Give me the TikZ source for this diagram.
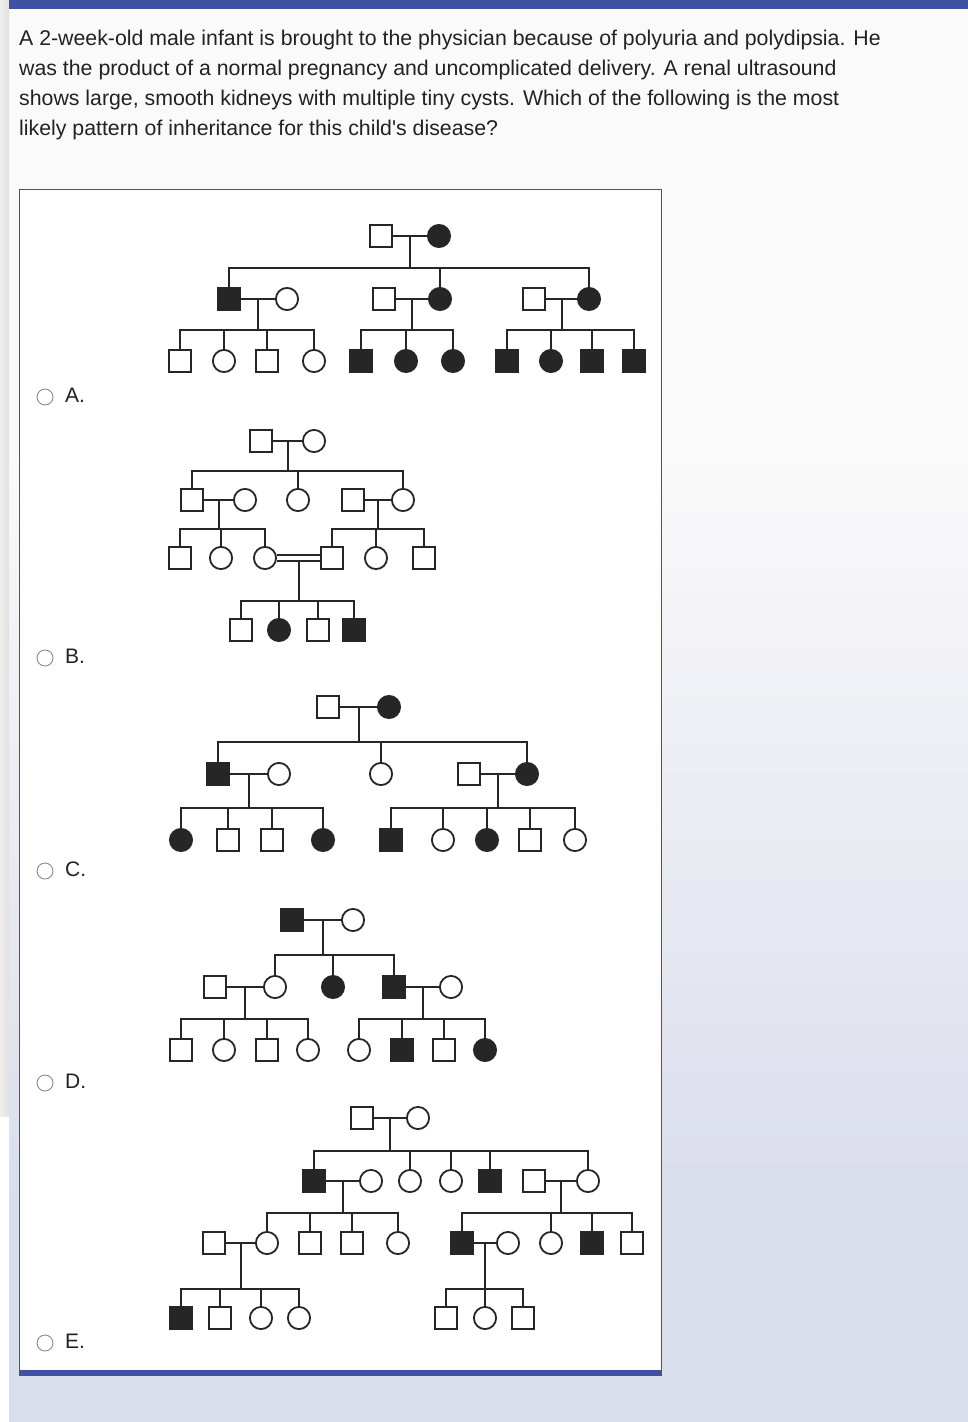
\documentclass[tikz,border=0pt]{standalone}
\usepackage{fontspec}
\setmainfont{Liberation Sans}
\usetikzlibrary{calc}
\definecolor{barblue}{HTML}{3F51A0}
\definecolor{pagegray}{HTML}{FAFAFA}
\definecolor{pagelav}{HTML}{DADDEC}
\definecolor{stripgray}{HTML}{E2E2E2}
\definecolor{inkgray}{HTML}{222222}
\definecolor{radiogray}{HTML}{8A8A8A}
\definecolor{pedink}{HTML}{262626}

% one family: marriage line, descent line, sibship line, drops
\newcommand{\family}[6]{%
  \draw[link] (#1) -- (#2);
  \coordinate (#1#2) at ($(#1)!.5!(#2)$);
  \coordinate (#1#2s) at ($(#1#2)+(0,#3)$);
  \draw[link] (#1#2) -- (#1#2s) (#4) |- (#1#2s) -| (#5);
  \foreach \kid in {#6} \draw[link] (#1#2s -| \kid) -- (\kid);
}

\begin{document}
\begin{tikzpicture}[x=1pt, y=-1pt,
    link/.style={draw=pedink, line width=2pt},
    male/.style={draw=pedink, line width=1.8pt, rectangle, minimum size=21.5pt, inner sep=0pt, fill=white},
    female/.style={male, circle, minimum size=22.2pt},
    amale/.style={male, fill=pedink},
    afemale/.style={female, fill=pedink},
    radio/.style={draw=radiogray, line width=0.9pt, circle, minimum size=16pt, inner sep=0pt},
    optlabel/.style={font=\fontsize{21pt}{24pt}\selectfont, text=inkgray, inner sep=0pt, anchor=base west},
    qline/.style={font=\fontsize{21.3pt}{30pt}\selectfont, text=inkgray, inner sep=0pt, anchor=base west}]
    \useasboundingbox (0,0) rectangle (968,1422);

    % Page background
    \fill[pagegray] (0,0) rectangle (968,1422);
    \shade[top color=pagegray, bottom color=pagelav] (0,450) rectangle (968,1200);
    \fill[pagelav] (0,1200) rectangle (968,1422);
    \shade[left color=stripgray!60, right color=stripgray] (0,0) rectangle (9,1117);
    \fill[white] (0,1117) rectangle (9,1422);
    \fill[barblue] (9,0) rectangle (968,9);

    % Question text
    \node[qline] (q1) at (19,45) {A 2-week-old male infant is brought to the physician because of polyuria and polydipsia. He};
    \node[qline] (q2) at (19,75) {was the product of a normal pregnancy and uncomplicated delivery. A renal ultrasound};
    \node[qline] (q3) at (19,105) {shows large, smooth kidneys with multiple tiny cysts. Which of the following is the most};
    \node[qline] (q4) at (19,135) {likely pattern of inheritance for this child\textquotesingle s disease?};

    % Answer panel
    \filldraw[fill=white, draw=barblue, line width=1pt] (19.5,189.5) rectangle (661,1372);
    \fill[barblue] (19,1370) rectangle (661.5,1376);
    \foreach \l/\y in {A/402, B/663, C/876, D/1088, E/1348} {
        \node[radio] (r\l) at (45,\y-5) {};
        \node[optlabel] (l\l) at (65,\y) {\l.};
    }

    % Pedigree A
    \foreach \n/\x/\s in {1/381/male, 2/439/afemale}
        \node[\s] (aI\n) at (\x,236) {};
    \foreach \n/\x/\s in {1/229/amale, 2/287/female, 3/384/male, 4/440/afemale, 5/534/male, 6/589/afemale}
        \node[\s] (aII\n) at (\x,299) {};
    \foreach \n/\x/\s in {1/180/male, 2/224/female, 3/267/male, 4/314/female, 5/361/amale, 6/406/afemale,
                          7/453/afemale, 8/507/amale, 9/551/afemale, 10/592/amale, 11/634/amale}
        \node[\s] (aIII\n) at (\x,361) {};
    \family{aI1}{aI2}{32}{aII1}{aII6}{aII1,aII4,aII6}
    \family{aII1}{aII2}{31}{aIII1}{aIII4}{aIII1,aIII2,aIII3,aIII4}
    \family{aII3}{aII4}{31}{aIII5}{aIII7}{aIII5,aIII6,aIII7}
    \family{aII5}{aII6}{31}{aIII8}{aIII11}{aIII8,aIII9,aIII10,aIII11}

    % Pedigree B
    \foreach \n/\x/\s in {1/261/male, 2/314/female}
        \node[\s] (bI\n) at (\x,441) {};
    \foreach \n/\x/\s in {1/192/male, 2/245/female, 3/298/female, 4/353/male, 5/403/female}
        \node[\s] (bII\n) at (\x,500) {};
    \foreach \n/\x/\s in {1/180/male, 2/221/female, 3/265/female, 4/332/male, 5/376/female, 6/424/male}
        \node[\s] (bIII\n) at (\x,558) {};
    \foreach \n/\x/\s in {1/241/male, 2/279/afemale, 3/318/male, 4/354/amale}
        \node[\s] (bIV\n) at (\x,630) {};
    \family{bI1}{bI2}{30}{bII1}{bII5}{bII1,bII3,bII5}
    \family{bII1}{bII2}{29}{bIII1}{bIII3}{bIII1,bIII2,bIII3}
    \family{bII4}{bII5}{29}{bIII4}{bIII6}{bIII4,bIII5,bIII6}
    % consanguineous couple
    \draw[link] ([yshift=3pt]bIII3.east) -- ([yshift=3pt]bIII4.west);
    \draw[link] ([yshift=-3pt]bIII3.east) -- ([yshift=-3pt]bIII4.west);
    \coordinate (bcon) at ($(bIII3)!.5!(bIII4)+(0,3)$);
    \coordinate (bcons) at ($(bcon)+(0,40)$);
    \draw[link] (bcon) -- (bcons) (bIV1) |- (bcons) -| (bIV4);
    \foreach \kid in {bIV2,bIV3} \draw[link] (bcons -| \kid) -- (\kid);

    % Pedigree C
    \foreach \n/\x/\s in {1/328/male, 2/389/afemale}
        \node[\s] (cI\n) at (\x,707) {};
    \foreach \n/\x/\s in {1/218/amale, 2/279/female, 3/381/female, 4/469/male, 5/527/afemale}
        \node[\s] (cII\n) at (\x,774) {};
    \foreach \n/\x/\s in {1/181/afemale, 2/228/male, 3/272/male, 4/323/afemale, 5/391/amale,
                          6/443/female, 7/487/afemale, 8/530/male, 9/575/female}
        \node[\s] (cIII\n) at (\x,840) {};
    \family{cI1}{cI2}{35}{cII1}{cII5}{cII1,cII3,cII5}
    \family{cII1}{cII2}{34}{cIII1}{cIII4}{cIII1,cIII2,cIII3,cIII4}
    \family{cII4}{cII5}{34}{cIII5}{cIII9}{cIII5,cIII6,cIII7,cIII8,cIII9}

    % Pedigree D
    \foreach \n/\x/\s in {1/292/amale, 2/353/female}
        \node[\s] (dI\n) at (\x,920) {};
    \foreach \n/\x/\s in {1/215/male, 2/275/female, 3/333/afemale, 4/394/amale, 5/451/female}
        \node[\s] (dII\n) at (\x,987) {};
    \foreach \n/\x/\s in {1/181/male, 2/224/female, 3/267/male, 4/308/female,
                          5/359/female, 6/402/amale, 7/444/male, 8/485/afemale}
        \node[\s] (dIII\n) at (\x,1050) {};
    \family{dI1}{dI2}{35}{dII2}{dII4}{dII2,dII3,dII4}
    \family{dII1}{dII2}{32}{dIII1}{dIII4}{dIII1,dIII2,dIII3,dIII4}
    \family{dII4}{dII5}{32}{dIII5}{dIII8}{dIII5,dIII6,dIII7,dIII8}

    % Pedigree E
    \foreach \n/\x/\s in {1/362/male, 2/418/female}
        \node[\s] (eI\n) at (\x,1118) {};
    \foreach \n/\x/\s in {1/314/amale, 2/371/female, 3/410/female, 4/451/female, 5/490/amale, 6/534/male, 7/588/female}
        \node[\s] (eII\n) at (\x,1181) {};
    \foreach \n/\x/\s in {1/214/male, 2/267/female, 3/310/male, 4/352/male, 5/398/female,
                          6/462/amale, 7/508/female, 8/551/female, 9/592/amale, 10/632/male}
        \node[\s] (eIII\n) at (\x,1243) {};
    \foreach \n/\x/\s in {1/181/amale, 2/220/male, 3/261/female, 4/299/female, 5/446/male, 6/485/female, 7/523/male}
        \node[\s] (eIV\n) at (\x,1318) {};
    \family{eI1}{eI2}{33}{eII1}{eII7}{eII1,eII3,eII4,eII5,eII7}
    \family{eII1}{eII2}{32}{eIII2}{eIII5}{eIII2,eIII3,eIII4,eIII5}
    \family{eII6}{eII7}{32}{eIII6}{eIII10}{eIII6,eIII8,eIII9,eIII10}
    \family{eIII1}{eIII2}{46}{eIV1}{eIV4}{eIV1,eIV2,eIV3,eIV4}
    \family{eIII6}{eIII7}{46}{eIV5}{eIV7}{eIV5,eIV6,eIV7}
\end{tikzpicture}
\end{document}
